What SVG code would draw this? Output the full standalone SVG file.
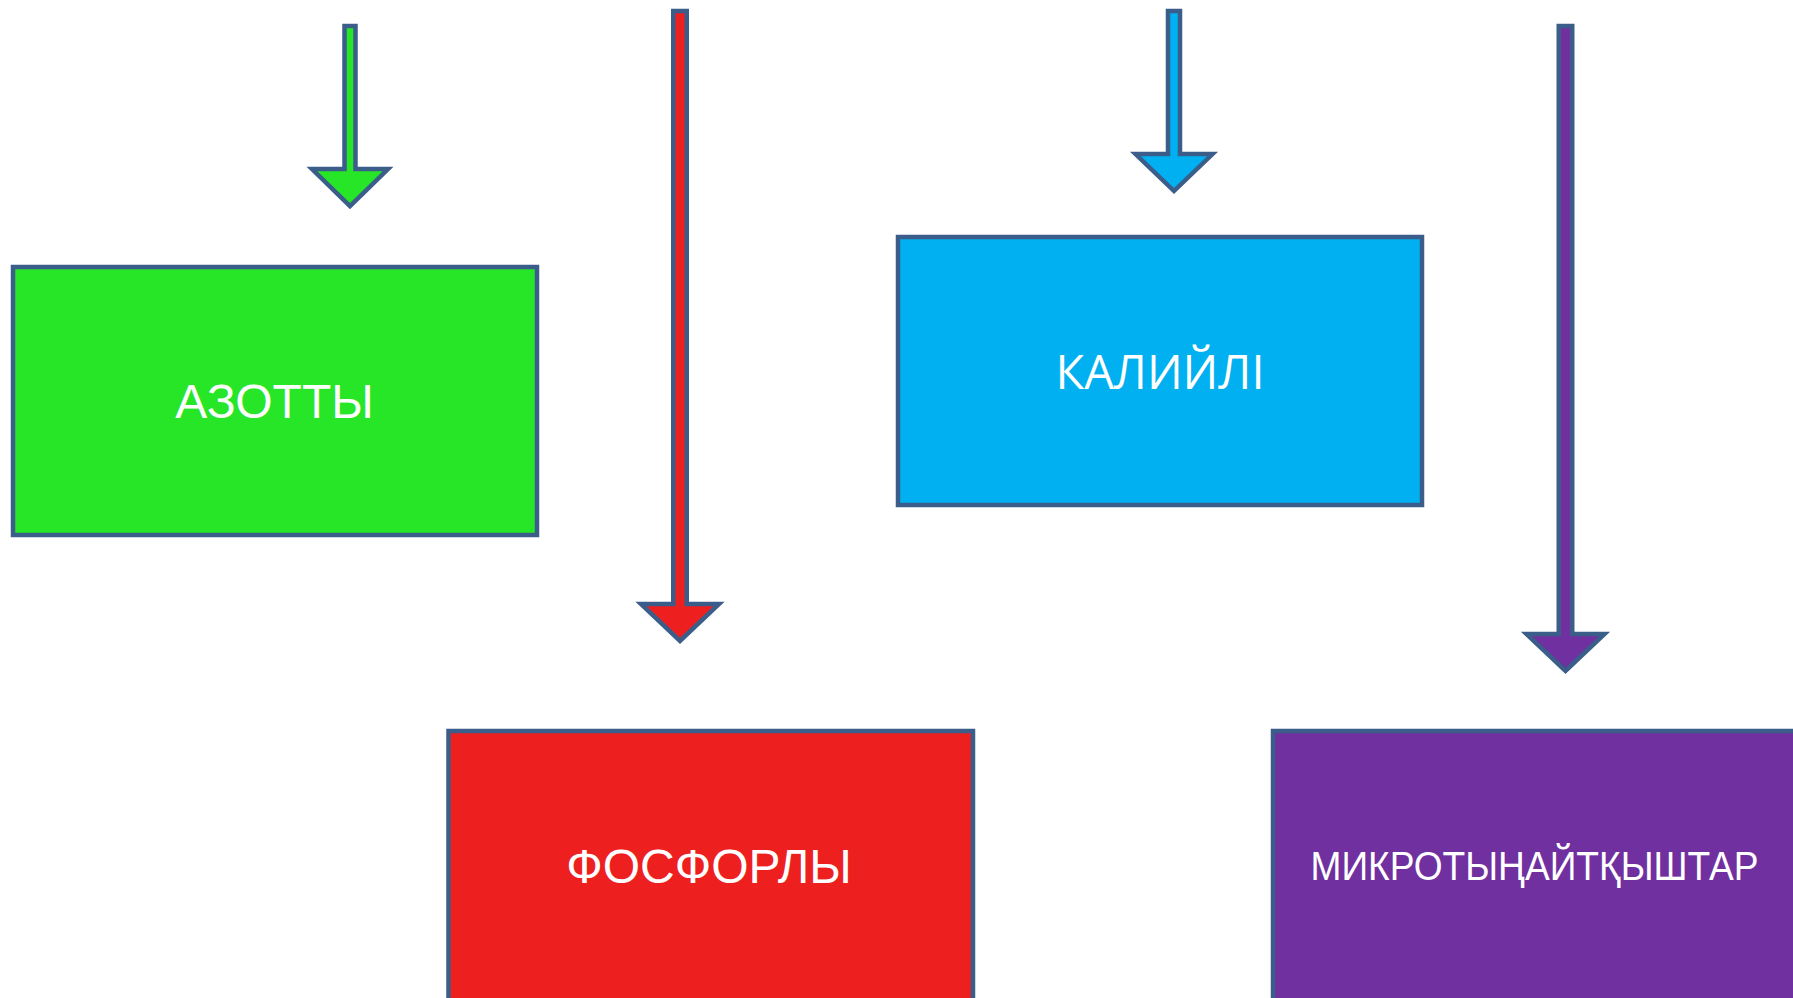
<svg xmlns="http://www.w3.org/2000/svg" width="1793" height="998" viewBox="0 0 1793 998">
  <style>
    .box { stroke: #3A5D8A; stroke-width: 4.5; }
    .arr { stroke: #3A5D8A; stroke-width: 4.5; stroke-linejoin: miter; }
    .lbl { fill: #FFFFFF; font-family: "Liberation Sans", Arial, sans-serif; text-anchor: middle; }
    .lbl2 { fill: #FFFFFF; font-family: "Open Sans", "Noto Sans", sans-serif; text-anchor: middle; }
  </style>
  <rect width="1793" height="998" fill="#FFFFFF"/>
  <g id="connectors">
    <polygon class="arr" fill="#27E627" points="344.5,26 355.5,26 355.5,169 388,169 350,206 312,169 344.5,169"/>
    <polygon class="arr" fill="#EE1F1F" points="673.25,11 686.75,11 686.75,604 719,604 680,641 641,604 673.25,604"/>
    <polygon class="arr" fill="#00B0F0" points="1168,11 1180,11 1180,154 1212.5,154 1174,191 1135.5,154 1168,154"/>
    <polygon class="arr" fill="#7030A0" points="1558.75,26 1572.25,26 1572.25,634 1604.5,634 1565.5,671 1526.5,634 1558.75,634"/>
  </g>
  <g id="node-azotty">
    <rect class="box" x="13" y="267" width="524" height="268" fill="#27E627"/>
    <text class="lbl" x="274.5" y="418" font-size="48">АЗОТТЫ</text>
  </g>
  <g id="node-kaliyli">
    <rect class="box" x="898" y="237" width="524" height="268" fill="#00B0F0"/>
    <text class="lbl2" x="1160" y="389" font-size="47">КАЛИЙЛІ</text>
  </g>
  <g id="node-fosforly">
    <rect class="box" x="448.5" y="731" width="524.5" height="280" fill="#EE1F1F"/>
    <text class="lbl" x="709" y="883" font-size="48">ФОСФОРЛЫ</text>
  </g>
  <g id="node-mikro">
    <rect class="box" x="1273" y="731" width="530" height="280" fill="#7030A0"/>
    <text class="lbl" x="1534.5" y="880" font-size="40" textLength="448" lengthAdjust="spacingAndGlyphs">МИКРОТЫҢАЙТҚЫШТАР</text>
  </g>
</svg>
